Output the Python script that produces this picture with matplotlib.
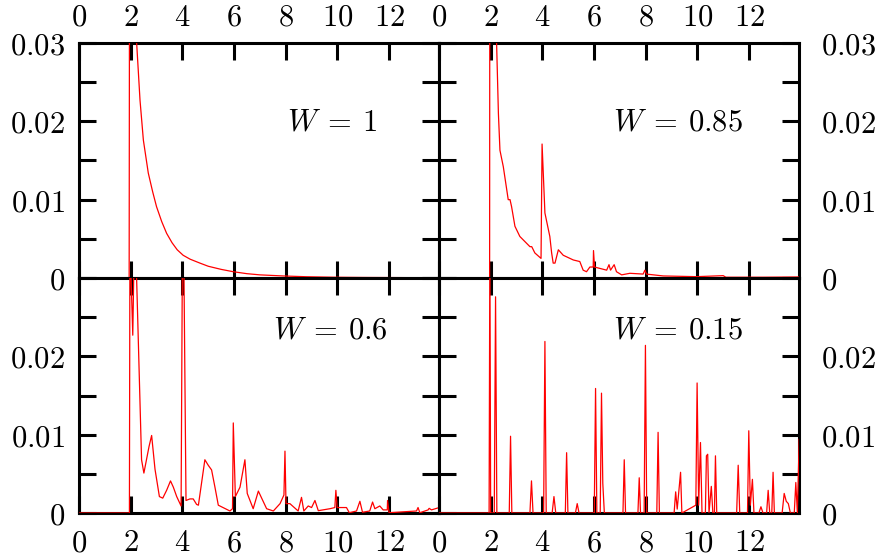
import matplotlib
matplotlib.use("Agg")
import matplotlib.pyplot as plt


# W = 1
x_w100 = [0, 1.94, 1.96, 2.1, 2.23, 2.36, 2.49, 2.68, 2.85, 3.0, 3.2, 3.39, 3.6, 3.8,
          4.03, 4.3, 4.68, 5.0, 5.5, 5.97, 6.5, 7.0, 7.9, 8.8, 9.84, 11.0, 12.5, 13.93]
y_w100 = [0, 0, 0.06, 0.05, 0.030, 0.0227, 0.0176, 0.0134, 0.011, 0.0091, 0.0072, 0.0057,
          0.0045, 0.0036, 0.0029, 0.0024, 0.0019, 0.0015, 0.0011, 0.0008, 0.00055, 0.0004,
          0.00026, 0.00016, 0.0001, 0.00007, 0.00005, 0.00003]

# W = 0.85
x_w085 = [0, 1.96, 1.97, 2.1, 2.23, 2.3, 2.36, 2.49, 2.68, 2.75, 2.81, 2.94, 3.13, 3.52, 3.59,
          3.71, 3.95, 3.99, 4.1, 4.29, 4.36, 4.42, 4.49, 4.62, 4.81, 5.2, 5.45, 5.58, 5.71,
          5.84, 5.97, 5.98, 6.02, 6.49, 6.58, 6.64, 6.78, 6.87, 7.07, 7.39, 7.9, 7.97, 8.03,
          8.68, 9.97, 11.0, 11.1, 12.55, 13.94]
y_w085 = [0, 0, 0.06, 0.05, 0.0300, 0.0210, 0.0163, 0.0142, 0.0100, 0.0100, 0.0091, 0.0066,
          0.0053, 0.0040, 0.0040, 0.0032, 0.0025, 0.0171, 0.0083, 0.0053, 0.0032, 0.0019,
          0.0019, 0.0036, 0.0029, 0.0023, 0.0021, 0.0010, 0.0008, 0.0014, 0.0014, 0.0035,
          0.0014, 0.0010, 0.0017, 0.0010, 0.0017, 0.0008, 0.0004, 0.0006, 0.0005, 0.0010,
          0.0005, 0.00026, 0.00017, 0.0003, 0.0001, 0.0001, 0.00013]

# W = 0.6
x_w060 = [0, 1.95, 1.97, 2.08, 2.14, 2.22, 2.42, 2.51, 2.71, 2.81, 2.94, 3.11, 3.24, 3.39,
          3.54, 3.65, 3.78, 3.95, 4.0, 4.06, 4.14, 4.29, 4.42, 4.55, 4.62, 4.87, 5.0, 5.13,
          5.26, 5.39, 5.84, 5.94, 5.97, 6.05, 6.23, 6.42, 6.51, 6.74, 6.94, 7.26, 7.52, 7.78,
          7.93, 7.97, 8.01, 8.16, 8.48, 8.61, 8.7, 8.87, 9.0, 9.13, 9.26, 9.71, 9.9, 9.94,
          9.99, 10.35, 10.46, 10.74, 10.87, 10.97, 11.25, 11.36, 11.45, 11.64, 11.77, 11.93,
          11.94, 12.0, 13.06, 13.12, 13.19, 13.51, 13.55, 13.64, 13.94]
y_w060 = [0, 0, 0.035, 0.0227, 0.035, 0.031, 0.0068, 0.0051, 0.0085, 0.0099, 0.0056,
          0.0021, 0.0019, 0.0029, 0.0041, 0.0033, 0.0021, 0.0009, 0.033, 0.031, 0.0016,
          0.0018, 0.0018, 0.0011, 0.0010, 0.0068, 0.0061, 0.0055, 0.0033, 0.0010, 0.00026,
          0.00055, 0.0115, 0.0021, 0.0033, 0.0068, 0.0025, 0.00055, 0.0028, 0.00055, 0.00026,
          0.0012, 0.0023, 0.0079, 0.0012, 0.0012, 0.00026, 0.0020, 0.00026, 0.0009, 0.0007,
          0.0016, 0.0003, 0.00055, 0.0007, 0.0029, 0.0007, 0.0007, 0.00004, 0.00026, 0.0015,
          0.0001, 0.00026, 0.0014, 0.00055, 0.0009, 0.0004, 0.0004, 0.0016, 0.00004, 0.00026,
          0.0007, 0.00004, 0.0004, 0.0006, 0.0004, 0.0007]

# W = 0.15
x_w015 = [0, 1.94, 1.97, 2.0, 2.14, 2.19, 2.24, 2.72, 2.77, 2.82, 3.52, 3.58, 3.64, 4.05,
          4.1, 4.15, 4.38, 4.45, 4.52, 4.89, 4.94, 4.99, 5.28, 5.35, 5.42, 6.01, 6.06, 6.11,
          6.24, 6.29, 6.34, 6.4, 7.12, 7.17, 7.22, 7.7, 7.75, 7.8, 7.94, 7.99, 8.04, 8.43,
          8.48, 8.53, 9.1, 9.16, 9.22, 9.35, 9.4, 9.94, 9.99, 10.05, 10.12, 10.18, 10.31,
          10.35, 10.4, 10.45, 10.54, 10.6, 10.66, 10.7, 10.75, 11.52, 11.58, 11.64, 11.94,
          11.99, 12.05, 12.13, 12.19, 12.38, 12.46, 12.54, 12.68, 12.74, 12.8, 12.88, 12.93,
          12.98, 13.28, 13.36, 13.44, 13.52, 13.6, 13.75, 13.81, 13.87, 13.94]
y_w015 = [0, 0, 0.035, 0, 0, 0.0276, 0, 0, 0.0098, 0, 0, 0.0041, 0, 0, 0.0219, 0, 0,
          0.0021, 0, 0, 0.0077, 0, 0, 0.0012, 0, 0, 0.0159, 0, 0, 0.0153, 0.0038, 0, 0,
          0.0068, 0, 0, 0.0045, 0, 0, 0.0214, 0, 0, 0.0103, 0, 0, 0.0027, 0.0005, 0.0052, 0,
          0.0010, 0.0166, 0.0010, 0.0090, 0, 0, 0.0073, 0.0075, 0, 0.0034, 0, 0, 0.0073, 0,
          0, 0.0061, 0, 0, 0.0105, 0.0010, 0.0043, 0, 0, 0.0008, 0, 0, 0.0029, 0, 0, 0.0052,
          0, 0, 0.0025, 0.0015, 0.0012, 0, 0, 0.0039, 0, 0.0094]

panels = [
    (x_w100, y_w100, r'$W \:=\: 1$'),
    (x_w085, y_w085, r'$W \:=\: 0.85$'),
    (x_w060, y_w060, r'$W \:=\: 0.6$'),
    (x_w015, y_w015, r'$W \:=\: 0.15$'),
]
label_pos = [(11.55, 0.0199), (11.78, 0.0199), (11.96, 0.0234), (11.78, 0.0234)]

x_ticks = [0, 2, 4, 6, 8, 10, 12]
y_ticks = [0, 0.01, 0.02, 0.03]
y_minor = [0.005, 0.015, 0.025]


def style_axis(ax, row, col):
    ax.set_xlim(0, 13.93)
    ax.set_ylim(0, 0.03)
    for s in ax.spines.values():
        s.set_linewidth(2.2)
    ax.set_xticks(x_ticks)
    ax.set_xticklabels([r'$%d$' % t for t in x_ticks], fontsize=22)
    ax.set_yticks(y_ticks)
    ylabels = [r'$0$', r'$0.01$', r'$0.02$', r'$0.03$']
    if row == 1:
        ylabels[-1] = ''
    ax.set_yticklabels(ylabels, fontsize=22)
    ax.set_yticks(y_minor, minor=True)
    ax.tick_params(which='both', direction='in', length=12, width=2.2,
                   top=True, bottom=True, left=True, right=True,
                   labeltop=(row == 0), labelbottom=(row == 1),
                   labelleft=(col == 0), labelright=(col == 1))
    ax.tick_params(axis='x', which='major', pad=11 if row == 1 else 8)
    ax.tick_params(axis='y', which='major', pad=10 if col == 0 else 16)


if __name__ == "__main__":
    plt.rcParams['mathtext.fontset'] = 'cm'

    fig = plt.figure(figsize=(8.82, 5.58), dpi=100)
    lefts = [0.0896, 0.4977]
    bottoms = [0.5018, 0.0806]
    w, h = 0.4081, 0.4212

    for i, (xs, ys, lab) in enumerate(panels):
        row, col = divmod(i, 2)
        ax = fig.add_axes([lefts[col], bottoms[row], w, h])
        ax.plot(xs, ys, color='#ff0000', lw=0.9, zorder=3)
        style_axis(ax, row, col)
        tx, ty = label_pos[i]
        ax.text(tx, ty, lab, fontsize=22, ha='right', va='center')

    fig.savefig('out.png', dpi=100)
